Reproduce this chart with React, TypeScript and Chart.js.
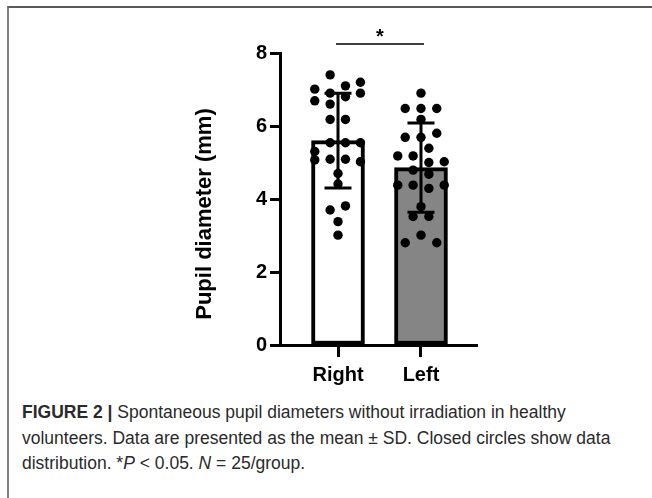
import React, { useEffect, useRef } from "react";
import { Chart, registerables } from "chart.js";

Chart.register(...registerables);

// ---- data ----
const categories = ["Right", "Left"];
const means = [5.6, 4.86];
const sds = [1.3, 1.22];
const rightValues = [7.4, 7.01, 6.9, 7.1, 7.2, 6.69, 6.6, 6.8, 6.9, 6.18, 6.18, 5.54, 5.54, 5.54, 5.3, 5.07, 5.09, 5.09, 5.02, 4.7, 4.41, 3.7, 3.81, 3.38, 3.01];
const rightJitter = [-0.095, -0.28, -0.095, 0.09, 0.27, -0.28, -0.095, 0.09, 0.27, -0.095, 0.09, -0.095, 0.09, 0.27, -0.28, -0.28, -0.095, 0.09, 0.27, 0, 0, -0.095, 0.09, 0, 0];
const leftValues = [6.9, 6.48, 6.48, 6.48, 6.18, 5.69, 5.69, 5.8, 5.39, 5.18, 5.18, 5.0, 5.02, 4.79, 4.68, 4.38, 4.38, 4.29, 4.38, 3.79, 3.52, 3.52, 3.01, 2.8, 2.8];
const leftJitter = [0, -0.19, 0, 0.19, 0, -0.19, 0, 0.19, 0.095, -0.28, -0.095, 0.095, 0.28, -0.095, 0.095, -0.28, -0.095, 0.095, 0.28, 0, -0.095, 0.095, 0, -0.19, 0.19];
const yTicks = [0, 2, 4, 6, 8];
const yTitle = "Pupil diameter (mm)";
const sigMark = "*";
const sigLevel = 8.25;

const FONT = "'Liberation Sans', Arial, sans-serif";

const overlayPlugin = {
  id: "overlay",
  afterDatasetsDraw(chart: any) {
    const { ctx, scales, chartArea } = chart;
    const xs = scales.x;
    const ys = scales.y;
    ctx.save();
    // error bars
    ctx.strokeStyle = "#000";
    ctx.lineWidth = 3;
    ctx.lineCap = "butt";
    means.forEach((m, i) => {
      const cx = xs.getPixelForValue(i + 1);
      const yTop = ys.getPixelForValue(m + sds[i]);
      const yBot = ys.getPixelForValue(m - sds[i]);
      ctx.beginPath();
      ctx.moveTo(cx, yTop);
      ctx.lineTo(cx, yBot);
      ctx.moveTo(cx - 13.5, yTop);
      ctx.lineTo(cx + 13.5, yTop);
      ctx.moveTo(cx - 13.5, yBot);
      ctx.lineTo(cx + 13.5, yBot);
      ctx.stroke();
    });
    // significance
    const sy = ys.getPixelForValue(sigLevel);
    const x1 = xs.getPixelForValue(1) - 2;
    const x2 = xs.getPixelForValue(2) + 3;
    ctx.lineWidth = 1.5;
    ctx.beginPath();
    ctx.moveTo(x1, sy);
    ctx.lineTo(x2, sy);
    ctx.stroke();
    ctx.fillStyle = "#000";
    ctx.font = `bold 20px ${FONT}`;
    ctx.textAlign = "center";
    ctx.textBaseline = "alphabetic";
    ctx.fillText(sigMark, (x1 + x2) / 2, sy - 1);
    // y title
    ctx.translate(chartArea.left - 69, (chartArea.top + chartArea.bottom) / 2 + 15);
    ctx.rotate(-Math.PI / 2);
    ctx.font = `bold 22px ${FONT}`;
    ctx.fillText(yTitle, 0, 0);
    ctx.restore();
  },
};

export default function App() {
  const ref = useRef<HTMLCanvasElement>(null);

  useEffect(() => {
    if (!ref.current) return;
    const chart = new Chart(ref.current, {
      type: "bar",
      data: {
        datasets: [
          {
            type: "bar",
            data: means.map((m, i) => ({ x: i + 1, y: m })) as any,
            backgroundColor: ["#ffffff", "#858585"],
            borderColor: "#000",
            borderWidth: 4,
            borderSkipped: false,
            barThickness: 53,
            order: 2,
          } as any,
          {
            type: "scatter",
            data: rightValues.map((v, i) => ({ x: 1 + rightJitter[i], y: v })),
            pointRadius: 4.7,
            pointBackgroundColor: "#000",
            pointBorderWidth: 0,
            order: 1,
          } as any,
          {
            type: "scatter",
            data: leftValues.map((v, i) => ({ x: 2 + leftJitter[i], y: v })),
            pointRadius: 4.7,
            pointBackgroundColor: "#000",
            pointBorderWidth: 0,
            order: 1,
          } as any,
        ],
      },
      options: {
        animation: false,
        responsive: false,
        maintainAspectRatio: false,
        layout: { padding: { left: 194, right: 175, top: 53, bottom: 10 } },
        plugins: { legend: { display: false }, tooltip: { enabled: false } },
        scales: {
          x: {
            type: "linear",
            offset: false,
            min: 0.301,
            max: 2.675,
            afterBuildTicks: (s: any) => {
              s.ticks = categories.map((_, i) => ({ value: i + 1 }));
            },
            afterFit: (s: any) => {
              s.height = 45;
            },
            ticks: {
              callback: (v: any) => categories[Math.round(v) - 1] ?? "",
              color: "#000",
              font: { family: FONT, size: 20, weight: "bold" },
              padding: 6,
              maxRotation: 0,
              autoSkip: false,
            },
            grid: { offset: false, drawOnChartArea: false, drawTicks: true, tickLength: 12, tickWidth: 3, tickColor: "#000" },
            border: { display: true, color: "#000", width: 3 },
          },
          y: {
            min: 0,
            max: 8,
            afterBuildTicks: (s: any) => {
              s.ticks = yTicks.map((v) => ({ value: v }));
            },
            afterFit: (s: any) => {
              s.width = 86;
            },
            ticks: {
              color: "#000",
              font: { family: FONT, size: 20, weight: "bold" },
              padding: 3,
            },
            grid: { drawOnChartArea: false, drawTicks: true, tickLength: 10, tickWidth: 3, tickColor: "#000" },
            border: { display: true, color: "#000", width: 3 },
          },
        },
      },
      plugins: [overlayPlugin],
    } as any);
    return () => chart.destroy();
  }, []);

  return (
    <div style={{ position: "relative", width: 652, height: 498, overflow: "hidden", background: "#fff" }}>
      <style>{`body{margin:0}`}</style>
      <div
        style={{
          position: "absolute",
          left: 7,
          top: 6,
          right: 0,
          bottom: 0,
          borderTop: "2px solid #5a5a5a",
          borderLeft: "2px solid #808080",
        }}
      />
      <canvas ref={ref} width={652} height={400} style={{ position: "absolute", left: 0, top: 0, width: 652, height: 400 }} />
      <div
        style={{
          position: "absolute",
          left: 22,
          top: 400,
          whiteSpace: "nowrap",
          fontFamily: FONT,
          fontSize: 17.5,
          lineHeight: "25.5px",
          color: "#2a2a2a",
        }}
      >
        <b>FIGURE 2 |</b> Spontaneous pupil diameters without irradiation in healthy
        <br />
        volunteers. Data are presented as the mean ± SD. Closed circles show data
        <br />
        distribution. *<i>P</i> &lt; 0.05. <i>N</i> = 25/group.
      </div>
    </div>
  );
}
